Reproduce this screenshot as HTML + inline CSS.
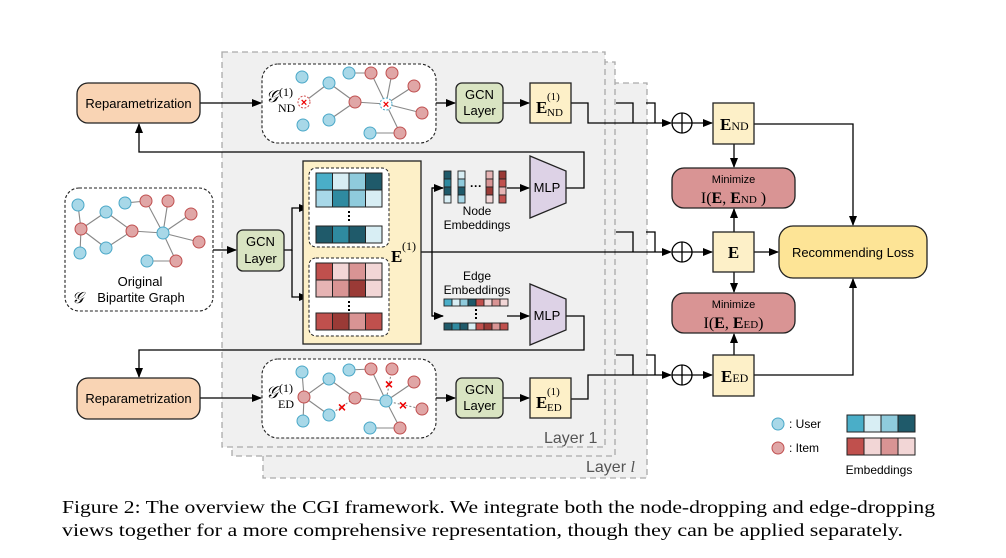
<!DOCTYPE html>
<html><head><meta charset="utf-8"><style>
html,body{margin:0;padding:0;background:#fff;}
svg{display:block;}
.s{font-family:"Liberation Sans",sans-serif;}
.r{font-family:"Liberation Serif",serif;}
</style></head><body>
<svg width="1006" height="558" viewBox="0 0 1006 558" xmlns="http://www.w3.org/2000/svg">
<defs>
<marker id="a" markerWidth="10" markerHeight="8" refX="9" refY="4" orient="auto" markerUnits="userSpaceOnUse"><path d="M0,0 L10,4 L0,8 Z" fill="#000"/></marker>
</defs>
<!-- layer panels -->
<rect x="263" y="83" width="384" height="395" fill="#f0f0f0" stroke="#aaa" stroke-dasharray="6,4" stroke-width="1.3"/>
<rect x="232" y="62" width="383" height="394" fill="#f0f0f0" stroke="#aaa" stroke-dasharray="6,4" stroke-width="1.3"/>
<rect x="222" y="52" width="383" height="395" fill="#f0f0f0" stroke="#aaa" stroke-dasharray="6,4" stroke-width="1.3"/>
<text x="544" y="443" class="s" font-size="16" fill="#555">Layer 1</text>
<text x="586" y="472" class="s" font-size="16" fill="#555">Layer <tspan class="r" font-style="italic">l</tspan></text>

<g stroke="#000" stroke-width="1.3" fill="none">
<!-- reparam to ND graph -->
<line x1="200" y1="103" x2="261" y2="103" marker-end="url(#a)"/>
<line x1="200" y1="398" x2="261" y2="398" marker-end="url(#a)"/>
<line x1="436" y1="103" x2="455" y2="103" marker-end="url(#a)"/>
<line x1="503" y1="103" x2="529" y2="103" marker-end="url(#a)"/>
<line x1="436" y1="398" x2="455" y2="398" marker-end="url(#a)"/>
<line x1="503" y1="398" x2="529" y2="398" marker-end="url(#a)"/>
<!-- original to GCN -->
<line x1="213" y1="250" x2="236" y2="250" marker-end="url(#a)"/>
<polyline points="284,250 292,250 292,208 308,208" marker-end="url(#a)"/>
<polyline points="292,250 292,297 308,297" marker-end="url(#a)"/>
<!-- E1 out -->
<line x1="421" y1="252" x2="671" y2="252" marker-end="url(#a)"/>
<polyline points="443,188 432,188 432,316 443,316"/>
<line x1="432" y1="188" x2="443" y2="188" marker-end="url(#a)"/>
<line x1="432" y1="316" x2="443" y2="316" marker-end="url(#a)"/>
<line x1="507" y1="188" x2="529" y2="188" marker-end="url(#a)"/>
<line x1="507" y1="316" x2="529" y2="316" marker-end="url(#a)"/>
<!-- MLP feedback -->
<polyline points="566,188 584,188 584,152 139,152 139,124" marker-end="url(#a)"/>
<polyline points="566,316 584,316 584,350 139,350 139,377" marker-end="url(#a)"/>
<!-- to oplus -->
<polyline points="571,103 588,103 588,123 671,123" marker-end="url(#a)"/>
<polyline points="616,103 633,103 633,123"/>
<polyline points="646,103 655,103 655,123"/>
<polyline points="616,232 633,232 633,252"/>
<polyline points="646,232 655,232 655,252"/>
<polyline points="571,399 588,399 588,375 671,375" marker-end="url(#a)"/>
<polyline points="616,355 633,355 633,375"/>
<polyline points="646,355 655,355 655,375"/>
<line x1="692" y1="123" x2="712" y2="123" marker-end="url(#a)"/>
<line x1="692" y1="252" x2="712" y2="252" marker-end="url(#a)"/>
<line x1="692" y1="375" x2="712" y2="375" marker-end="url(#a)"/>
<circle cx="682" cy="123" r="10"/><line x1="672" y1="123" x2="692" y2="123"/><line x1="682" y1="113" x2="682" y2="133"/>
<circle cx="682" cy="252" r="10"/><line x1="672" y1="252" x2="692" y2="252"/><line x1="682" y1="242" x2="682" y2="262"/>
<circle cx="682" cy="375" r="10"/><line x1="672" y1="375" x2="692" y2="375"/><line x1="682" y1="365" x2="682" y2="385"/>
<line x1="734" y1="144" x2="734" y2="167" marker-end="url(#a)"/>
<line x1="734" y1="232" x2="734" y2="209" marker-end="url(#a)"/>
<line x1="734" y1="272" x2="734" y2="292" marker-end="url(#a)"/>
<line x1="734" y1="355" x2="734" y2="334" marker-end="url(#a)"/>
<line x1="754" y1="252" x2="778" y2="252" marker-end="url(#a)"/>
<polyline points="754,124 853,124 853,225" marker-end="url(#a)"/>
<polyline points="754,375 853,375 853,279" marker-end="url(#a)"/>
</g>

<!-- Reparametrization -->
<rect x="77" y="83" width="123" height="40" rx="11" fill="#f9d4b4" stroke="#222" stroke-width="1.3"/>
<text x="138.5" y="108" class="s" font-size="13" text-anchor="middle">Reparametrization</text>
<rect x="77" y="378" width="123" height="41" rx="11" fill="#f9d4b4" stroke="#222" stroke-width="1.3"/>
<text x="138.5" y="403" class="s" font-size="13" text-anchor="middle">Reparametrization</text>

<!-- graph boxes -->
<rect x="65" y="188" width="148" height="123" rx="14" fill="#fff" stroke="#222" stroke-dasharray="3,2" stroke-width="1.1"/>
<rect x="262" y="64" width="174" height="79" rx="16" fill="#fff" stroke="#222" stroke-dasharray="3,2" stroke-width="1.1"/>
<rect x="262" y="359" width="174" height="79" rx="16" fill="#fff" stroke="#222" stroke-dasharray="3,2" stroke-width="1.1"/>

<g stroke="#888" stroke-width="1.1">
<!-- original edges -->
<line x1="78" y1="205" x2="81" y2="229"/><line x1="81" y1="229" x2="80" y2="253"/><line x1="81" y1="229" x2="106" y2="212"/><line x1="81" y1="229" x2="106" y2="248"/><line x1="106" y1="212" x2="132" y2="231"/><line x1="106" y1="248" x2="132" y2="231"/><line x1="132" y1="231" x2="163" y2="233"/><line x1="125" y1="203" x2="146" y2="201"/><line x1="146" y1="201" x2="163" y2="233"/><line x1="168" y1="201" x2="163" y2="233"/><line x1="191" y1="214" x2="163" y2="233"/><line x1="199" y1="242" x2="163" y2="233"/><line x1="163" y1="233" x2="176" y2="261"/><line x1="147" y1="261" x2="176" y2="261"/>
<!-- ND edges -->
<line x1="304" y1="102" x2="329" y2="83"/><line x1="329" y1="83" x2="355" y2="102"/><line x1="329" y1="120" x2="355" y2="102"/><line x1="349" y1="73" x2="371" y2="73"/><line x1="355" y1="102" x2="386" y2="104"/><line x1="371" y1="73" x2="386" y2="104"/><line x1="392" y1="73" x2="386" y2="104"/><line x1="414" y1="86" x2="386" y2="104"/><line x1="422" y1="113" x2="386" y2="104"/><line x1="400" y1="133" x2="386" y2="104"/><line x1="370" y1="133" x2="400" y2="133"/>
<!-- ED edges -->
<line x1="304" y1="397" x2="302" y2="372"/><line x1="304" y1="397" x2="303" y2="421"/><line x1="304" y1="397" x2="329" y2="379"/><line x1="304" y1="397" x2="329" y2="415"/><line x1="329" y1="379" x2="355" y2="398"/><line x1="349" y1="370" x2="371" y2="369"/><line x1="371" y1="369" x2="386" y2="401"/><line x1="414" y1="382" x2="386" y2="401"/><line x1="355" y1="398" x2="386" y2="401"/><line x1="386" y1="401" x2="400" y2="428"/><line x1="370" y1="428" x2="400" y2="428"/>
</g>
<g stroke="#888" stroke-width="1.1" stroke-dasharray="2,2">
<line x1="329" y1="415" x2="355" y2="398"/><line x1="392" y1="369" x2="386" y2="401"/><line x1="386" y1="401" x2="422" y2="409"/>
</g>
<g stroke="#4aa8c8" fill="#a8d8e8" stroke-width="1">
<circle cx="78" cy="205" r="6"/><circle cx="106" cy="212" r="6"/><circle cx="125" cy="203" r="6"/><circle cx="80" cy="253" r="6"/><circle cx="106" cy="248" r="6"/><circle cx="163" cy="233" r="6"/><circle cx="147" cy="261" r="6"/>
<circle cx="302" cy="77" r="6"/><circle cx="329" cy="83" r="6"/><circle cx="303" cy="125" r="6"/><circle cx="329" cy="120" r="6"/><circle cx="349" cy="73" r="6"/><circle cx="370" cy="133" r="6"/>
<circle cx="302" cy="372" r="6"/><circle cx="329" cy="379" r="6"/><circle cx="303" cy="421" r="6"/><circle cx="329" cy="415" r="6"/><circle cx="349" cy="370" r="6"/><circle cx="386" cy="401" r="6"/><circle cx="370" cy="428" r="6"/>
</g>
<g stroke="#c05050" fill="#e0a6a6" stroke-width="1">
<circle cx="81" cy="229" r="6"/><circle cx="146" cy="201" r="6"/><circle cx="168" cy="201" r="6"/><circle cx="191" cy="214" r="6"/><circle cx="132" cy="231" r="6"/><circle cx="199" cy="242" r="6"/><circle cx="176" cy="261" r="6"/>
<circle cx="371" cy="73" r="6"/><circle cx="392" cy="73" r="6"/><circle cx="414" cy="86" r="6"/><circle cx="355" cy="102" r="6"/><circle cx="422" cy="113" r="6"/><circle cx="400" cy="133" r="6"/>
<circle cx="304" cy="397" r="6"/><circle cx="371" cy="369" r="6"/><circle cx="392" cy="369" r="6"/><circle cx="414" cy="382" r="6"/><circle cx="355" cy="398" r="6"/><circle cx="422" cy="409" r="6"/><circle cx="400" cy="428" r="6"/>
</g>
<!-- dropped nodes -->
<circle cx="304" cy="102" r="6" fill="#fff" stroke="#d05050" stroke-dasharray="2,1.5"/>
<circle cx="386" cy="104" r="6" fill="#fff" stroke="#4aa8c8" stroke-dasharray="2,1.5"/>
<g fill="#e00" font-family="Liberation Sans,sans-serif" font-weight="bold" text-anchor="middle" font-size="11">
<text x="304" y="106">×</text><text x="386" y="108">×</text>
<text x="342" y="412" font-size="14">×</text><text x="389" y="389" font-size="14">×</text><text x="403" y="410" font-size="14">×</text>
</g>
<text x="140" y="286" class="s" font-size="13" text-anchor="middle">Original</text>
<text x="141" y="302" class="s" font-size="13" text-anchor="middle">Bipartite Graph</text>
<text x="72" y="303" class="r" font-size="16" font-style="italic">𝒢</text>
<text x="266" y="102" class="r" font-size="17" font-style="italic">𝒢</text><text x="279" y="96" class="r" font-size="12">(1)</text><text x="278" y="112" class="r" font-size="12">ND</text>
<text x="266" y="398" class="r" font-size="17" font-style="italic">𝒢</text><text x="279" y="392" class="r" font-size="12">(1)</text><text x="278" y="408" class="r" font-size="12">ED</text>

<!-- GCN boxes -->
<g fill="#d9e4c2" stroke="#222" stroke-width="1.3">
<rect x="456" y="83" width="47" height="40" rx="6"/><rect x="456" y="378" width="47" height="40" rx="6"/><rect x="237" y="230" width="47" height="41" rx="6"/>
</g>
<g class="s" font-size="13" text-anchor="middle">
<text x="479.5" y="99">GCN</text><text x="479.5" y="115">Layer</text>
<text x="479.5" y="394">GCN</text><text x="479.5" y="410">Layer</text>
<text x="260.5" y="246">GCN</text><text x="260.5" y="263">Layer</text>
</g>
<!-- E(1) boxes -->
<rect x="530" y="83" width="41" height="40" fill="#fdf0c8" stroke="#222" stroke-width="1.3"/>
<text x="536" y="113" class="r" font-weight="bold" font-size="17">E</text><text x="547" y="100" class="r" font-size="11">(1)</text><text x="547" y="116" class="r" font-size="11">ND</text>
<rect x="530" y="378" width="41" height="40" fill="#fdf0c8" stroke="#222" stroke-width="1.3"/>
<text x="536" y="408" class="r" font-weight="bold" font-size="17">E</text><text x="547" y="395" class="r" font-size="11">(1)</text><text x="547" y="411" class="r" font-size="11">ED</text>

<!-- big E1 -->
<rect x="303" y="161" width="118" height="183" fill="#fdf0c8" stroke="#222" stroke-width="1.3"/>
<rect x="309" y="168" width="80" height="79" rx="7" fill="#fff" stroke="#222" stroke-dasharray="3,2"/>
<rect x="309" y="258" width="80" height="78" rx="7" fill="#fff" stroke="#222" stroke-dasharray="3,2"/>
<text x="391" y="262" class="r" font-weight="bold" font-size="17">E</text><text x="402" y="250" class="r" font-size="12">(1)</text>
<g stroke="#222" stroke-width="1">
<rect x="316" y="173" width="16.5" height="17" fill="#4aaec8"/><rect x="332.5" y="173" width="16.5" height="17" fill="#d8eef4"/><rect x="349" y="173" width="16.5" height="17" fill="#8fcbdc"/><rect x="365.5" y="173" width="16.5" height="17" fill="#1f5a6a"/>
<rect x="316" y="190" width="16.5" height="17" fill="#a8d8e8"/><rect x="332.5" y="190" width="16.5" height="17" fill="#2f8aa0"/><rect x="349" y="190" width="16.5" height="17" fill="#8fcbdc"/><rect x="365.5" y="190" width="16.5" height="17" fill="#d8eef4"/>
<rect x="316" y="226" width="16.5" height="17" fill="#1f5a6a"/><rect x="332.5" y="226" width="16.5" height="17" fill="#2f8aa0"/><rect x="349" y="226" width="16.5" height="17" fill="#1f5a6a"/><rect x="365.5" y="226" width="16.5" height="17" fill="#d8eef4"/>
<rect x="316" y="263" width="16.5" height="17" fill="#c0504d"/><rect x="332.5" y="263" width="16.5" height="17" fill="#f2d6d6"/><rect x="349" y="263" width="16.5" height="17" fill="#d99494"/><rect x="365.5" y="263" width="16.5" height="17" fill="#f2d6d6"/>
<rect x="316" y="280" width="16.5" height="17" fill="#e6b4b4"/><rect x="332.5" y="280" width="16.5" height="17" fill="#d99494"/><rect x="349" y="280" width="16.5" height="17" fill="#9a3a36"/><rect x="365.5" y="280" width="16.5" height="17" fill="#f2d6d6"/>
<rect x="316" y="313" width="16.5" height="17" fill="#c0504d"/><rect x="332.5" y="313" width="16.5" height="17" fill="#9a3a36"/><rect x="349" y="313" width="16.5" height="17" fill="#d99494"/><rect x="365.5" y="313" width="16.5" height="17" fill="#c0504d"/>
</g>
<g fill="#000"><rect x="348" y="211" width="2" height="2"/><rect x="348" y="215" width="2" height="2"/><rect x="348" y="219" width="2" height="2"/>
<rect x="348" y="301" width="2" height="2"/><rect x="348" y="305" width="2" height="2"/><rect x="348" y="309" width="2" height="2"/></g>

<!-- node embeddings -->
<g stroke="#222" stroke-width="0.9">
<rect x="444" y="171" width="7" height="8" fill="#1f5a6a"/><rect x="444" y="179" width="7" height="8" fill="#2f8aa0"/><rect x="444" y="187" width="7" height="8" fill="#1f5a6a"/><rect x="444" y="195" width="7" height="8" fill="#d8eef4"/>
<rect x="458" y="171" width="7" height="8" fill="#d8eef4"/><rect x="458" y="179" width="7" height="8" fill="#8fcbdc"/><rect x="458" y="187" width="7" height="8" fill="#1f5a6a"/><rect x="458" y="195" width="7" height="8" fill="#a8d8e8"/>
<rect x="486" y="171" width="7" height="8" fill="#e6b4b4"/><rect x="486" y="179" width="7" height="8" fill="#d99494"/><rect x="486" y="187" width="7" height="8" fill="#9a3a36"/><rect x="486" y="195" width="7" height="8" fill="#f2d6d6"/>
<rect x="499" y="171" width="7" height="8" fill="#9a3a36"/><rect x="499" y="179" width="7" height="8" fill="#c0504d"/><rect x="499" y="187" width="7" height="8" fill="#e6b4b4"/><rect x="499" y="195" width="7" height="8" fill="#c0504d"/>
</g>
<text x="476" y="190" font-size="12" text-anchor="middle" font-weight="bold" class="s">···</text>
<text x="477" y="215" class="s" font-size="12" text-anchor="middle">Node</text>
<text x="477" y="229" class="s" font-size="12" text-anchor="middle">Embeddings</text>
<text x="477" y="280" class="s" font-size="12" text-anchor="middle">Edge</text>
<text x="477" y="294" class="s" font-size="12" text-anchor="middle">Embeddings</text>
<g stroke="#222" stroke-width="0.9">
<rect x="444" y="299" width="8" height="7" fill="#4aaec8"/><rect x="452" y="299" width="8" height="7" fill="#d8eef4"/><rect x="460" y="299" width="8" height="7" fill="#8fcbdc"/><rect x="468" y="299" width="8" height="7" fill="#1f5a6a"/><rect x="476" y="299" width="8" height="7" fill="#c0504d"/><rect x="484" y="299" width="8" height="7" fill="#f2d6d6"/><rect x="492" y="299" width="8" height="7" fill="#d99494"/><rect x="500" y="299" width="8" height="7" fill="#f2d6d6"/>
<rect x="444" y="323" width="8" height="7" fill="#1f5a6a"/><rect x="452" y="323" width="8" height="7" fill="#2f8aa0"/><rect x="460" y="323" width="8" height="7" fill="#1f5a6a"/><rect x="468" y="323" width="8" height="7" fill="#d8eef4"/><rect x="476" y="323" width="8" height="7" fill="#c0504d"/><rect x="484" y="323" width="8" height="7" fill="#9a3a36"/><rect x="492" y="323" width="8" height="7" fill="#d99494"/><rect x="500" y="323" width="8" height="7" fill="#c0504d"/>
</g>
<g fill="#000"><rect x="475" y="309" width="2" height="2"/><rect x="475" y="313" width="2" height="2"/><rect x="475" y="317" width="2" height="2"/></g>

<!-- MLP -->
<polygon points="530,156 566,171 566,203 530,218" fill="#ddd2e6" stroke="#222" stroke-width="1.3"/>
<text x="547" y="192" class="s" font-size="13" text-anchor="middle">MLP</text>
<polygon points="530,284 566,299 566,330 530,345" fill="#ddd2e6" stroke="#222" stroke-width="1.3"/>
<text x="547" y="320" class="s" font-size="13" text-anchor="middle">MLP</text>

<!-- right side -->
<g fill="#fdf0c8" stroke="#222" stroke-width="1.3">
<rect x="713" y="103" width="41" height="41"/><rect x="713" y="232" width="41" height="40"/><rect x="713" y="355" width="41" height="41"/>
</g>
<text x="720" y="130" class="r" font-weight="bold" font-size="17">E<tspan font-weight="normal" font-size="12">ND</tspan></text>
<text x="733.5" y="258" class="r" font-weight="bold" font-size="17" text-anchor="middle">E</text>
<text x="721" y="382" class="r" font-weight="bold" font-size="17">E<tspan font-weight="normal" font-size="12">ED</tspan></text>
<rect x="672" y="168" width="123" height="40" rx="12" fill="#d99494" stroke="#222" stroke-width="1.3"/>
<rect x="672" y="293" width="123" height="40" rx="12" fill="#d99494" stroke="#222" stroke-width="1.3"/>
<text x="733.5" y="183" class="s" font-size="11" text-anchor="middle">Minimize</text>
<text x="733.5" y="203" class="r" font-size="16" text-anchor="middle">I(<tspan font-weight="bold">E</tspan>, <tspan font-weight="bold">E</tspan><tspan font-size="11">ND</tspan> )</text>
<text x="733.5" y="308" class="s" font-size="11" text-anchor="middle">Minimize</text>
<text x="733.5" y="328" class="r" font-size="16" text-anchor="middle">I(<tspan font-weight="bold">E</tspan>, <tspan font-weight="bold">E</tspan><tspan font-size="11">ED</tspan>)</text>
<rect x="779" y="226" width="148" height="52" rx="14" fill="#fde496" stroke="#222" stroke-width="1.3"/>
<text x="853" y="257" class="s" font-size="13" text-anchor="middle">Recommending Loss</text>

<!-- legend -->
<circle cx="778" cy="424" r="6" fill="#a8d8e8" stroke="#4aa8c8"/>
<circle cx="778" cy="448" r="6" fill="#e0a6a6" stroke="#c05050"/>
<text x="789" y="428" class="s" font-size="12">:  User</text>
<text x="789" y="452" class="s" font-size="12">:  Item</text>
<g stroke="#222" stroke-width="1">
<rect x="847" y="415" width="17" height="17" fill="#4aaec8"/><rect x="864" y="415" width="17" height="17" fill="#d8eef4"/><rect x="881" y="415" width="17" height="17" fill="#8fcbdc"/><rect x="898" y="415" width="17" height="17" fill="#1f5a6a"/>
<rect x="847" y="438" width="17" height="17" fill="#c0504d"/><rect x="864" y="438" width="17" height="17" fill="#f2d6d6"/><rect x="881" y="438" width="17" height="17" fill="#d99494"/><rect x="898" y="438" width="17" height="17" fill="#f2d6d6"/>
</g>
<text x="879" y="474" class="s" font-size="12" text-anchor="middle">Embeddings</text>

<!-- caption -->
<text x="62" y="513" class="r" font-size="17.5" textLength="873" lengthAdjust="spacingAndGlyphs">Figure 2: The overview the CGI framework. We integrate both the node-dropping and edge-dropping</text>
<text x="62" y="536" class="r" font-size="17.5" textLength="841" lengthAdjust="spacingAndGlyphs">views together for a more comprehensive representation, though they can be applied separately.</text>
</svg>
</body></html>
